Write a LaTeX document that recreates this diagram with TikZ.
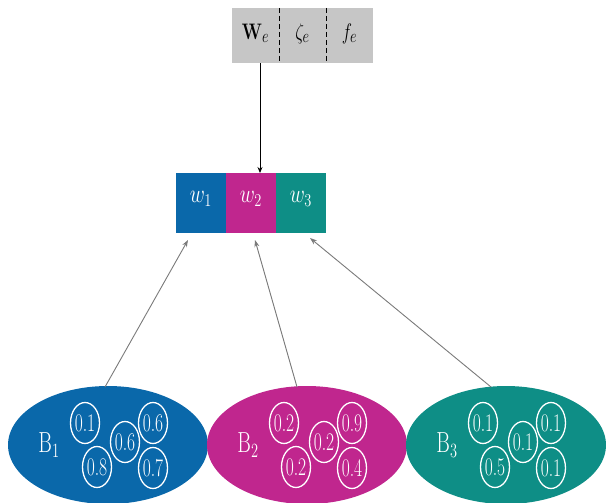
\documentclass[tikz,border=0pt]{standalone}
\usepackage{amsmath,amssymb,bm}
\usetikzlibrary{shapes.geometric,arrows.meta}
\definecolor{cblue}{HTML}{0A68AA}
\definecolor{cmag}{HTML}{C0268E}
\definecolor{cteal}{HTML}{0E8E86}
\definecolor{cgray}{HTML}{C6C6C6}
\definecolor{lgray}{HTML}{7A7A7A}
\tikzset{
  cell/.style={minimum width=50pt,minimum height=60pt,inner sep=0pt,text=white},
  topcell/.style={minimum width=47pt,minimum height=55pt,inner sep=0pt,fill=cgray},
  bag/.style={ellipse,minimum width=200pt,minimum height=118pt,inner sep=0pt},
  val/.style={ellipse,draw=white,line width=1.3pt,minimum width=29pt,minimum height=41pt,inner sep=0pt,text=white,font=\fontsize{17.5}{17.5}\selectfont},
  upar/.style={draw=lgray,line width=0.9pt,-{Stealth[length=7pt,width=5pt]}},
}
\newcommand{\tall}[2][1.4]{\scalebox{1}[#1]{#2}}
\begin{document}
\begin{tikzpicture}[x=1pt,y=-1pt]
\useasboundingbox (0,0) rectangle (606,503);
\begin{scope}
\clip (0,0) rectangle (606,503);
% top box
\node[topcell] (We) at (255.5,35.5) {};
\node[topcell] (ze) at (302.5,35.5) {};
\node[topcell] (fe) at (349.5,35.5) {};
\draw[dashed,line width=0.8pt,dash pattern=on 5pt off 3pt] (We.north east) -- (We.south east);
\draw[dashed,line width=0.8pt,dash pattern=on 5pt off 3pt] (ze.north east) -- (ze.south east);
\node[font=\fontsize{19}{19}\selectfont] at ([yshift=2pt]We) {\tall[1.3]{$\mathbf{W}_e$}};
\node[font=\fontsize{19}{19}\selectfont] at ([yshift=2pt]ze) {\tall[1.3]{$\zeta_e$}};
\node[font=\fontsize{19}{19}\selectfont] at ([yshift=2pt]fe) {\tall[1.3]{$f_e$}};
% weight box
\node[cell,fill=cblue] (w1) at (201,203) {};
\node[cell,fill=cmag] (w2) at (251,203) {};
\node[cell,fill=cteal] (w3) at (301,203) {};
\foreach \n/\t in {w1/w_1,w2/w_2,w3/w_3}
  \node[text=white,font=\fontsize{21}{21}\selectfont] at ([yshift=4pt]\n) {\tall[1.25]{$\t$}};
\coordinate (wtop) at (260,173);
\draw[line width=0.8pt,-{Stealth[length=6pt,width=5pt]}] (We.south -| wtop) -- (wtop);
% bags
\node[bag,fill=cblue] (b1) at (108,445) {};
\node[bag,fill=cmag] (b2) at (307,445) {};
\node[bag,fill=cteal] (b3) at (506,445) {};
\foreach \b/\k/\va/\vb/\vc/\vd/\ve in {b1/1/0.1/0.6/0.6/0.8/0.7, b2/2/0.2/0.2/0.9/0.2/0.4, b3/3/0.1/0.1/0.1/0.5/0.1}{
  \node[text=white,font=\fontsize{22}{22}\selectfont] at ([shift={(-59,0)}]\b) {\tall[1.4]{$\mathrm{B}_{\k}$}};
  \node[val] (\b a) at ([shift={(-23,-22)}]\b) {\tall[1.45]{\va}};
  \node[val] (\b b) at ([shift={(17,-3)}]\b) {\tall[1.45]{\vb}};
  \node[val] (\b c) at ([shift={(45,-22)}]\b) {\tall[1.45]{\vc}};
  \node[val] (\b d) at ([shift={(-11,22)}]\b) {\tall[1.45]{\vd}};
  \node[val] (\b e) at ([shift={(45,23)}]\b) {\tall[1.45]{\ve}};
}
\coordinate (t1) at (188,240);
\coordinate (t2) at (255,240);
\coordinate (t3) at (310,238);
\coordinate (s1) at (105,387);
\coordinate (s2) at (297,387);
\coordinate (s3) at (491,387);
\draw[upar] (s1) -- (t1);
\draw[upar] (s2) -- (t2);
\draw[upar] (s3) -- (t3);
\end{scope}
\end{tikzpicture}
\end{document}
